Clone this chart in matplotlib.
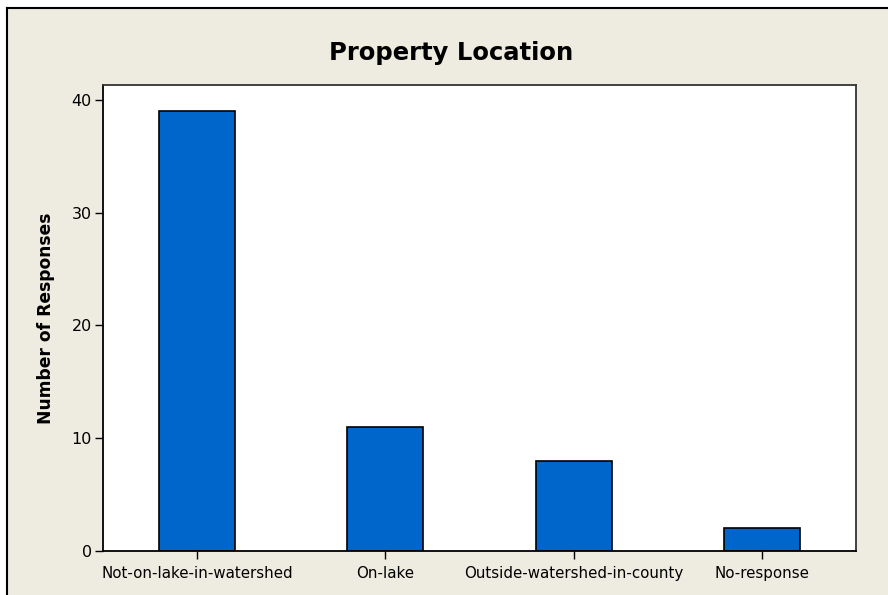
import matplotlib
matplotlib.use("Agg")
import matplotlib.pyplot as plt
from matplotlib.lines import Line2D

# -------- data --------
categories = ["Not-on-lake-in-watershed", "On-lake",
              "Outside-watershed-in-county", "No-response"]
responses = [39, 11, 8, 2]
y_ticks = [0, 10, 20, 30, 40]
# ----------------------

BG = "#EEEBE0"
BAR = "#0066CC"

plt.rcParams["font.family"] = ["DejaVu Sans"]

fig = plt.figure(figsize=(8.88, 5.95), dpi=100, facecolor=BG)
ax = fig.add_axes([103 / 888, 1 - 551 / 595, (856 - 103) / 888, (551 - 85) / 595])
ax.set_facecolor("white")

x = list(range(len(categories)))
ax.bar(x, responses, width=0.405, color=BAR, edgecolor="black", linewidth=1.2)

ax.set_xlim(-0.5, 3.5)
ax.set_ylim(0, 41.3)
ax.set_xticks(x)
ax.set_xticklabels(categories, fontsize=10.8)
ax.set_yticks(y_ticks)
ax.set_yticklabels([str(t) for t in y_ticks], fontsize=11.5)
ax.tick_params(axis="both", direction="out", length=6, width=1, color="black", pad=2)
ax.tick_params(axis="x", pad=5)

for side in ["left", "bottom", "top", "right"]:
    ax.spines[side].set_linewidth(1.3)
    ax.spines[side].set_color("black")
ax.spines["right"].set_color("#333333")
ax.spines["top"].set_color("#333333")

ax.set_ylabel("Number of Responses", fontsize=12.3, fontweight="bold", labelpad=12)

fig.text(451 / 888, 1 - 53 / 595, "Property Location", fontsize=17.5, fontweight="bold",
         ha="center", va="center")

# outer frame (top and left edges visible in the cropped screenshot)
fig.add_artist(Line2D([7 / 888, 1], [1 - 8 / 595, 1 - 8 / 595], color="black",
                      linewidth=1.5, transform=fig.transFigure))
fig.add_artist(Line2D([7 / 888, 7 / 888], [0, 1 - 8 / 595], color="black",
                      linewidth=1.5, transform=fig.transFigure))
# white strip above / left of the frame
fig.add_artist(plt.Rectangle((0, 1 - 8 / 595), 1, 8 / 595, facecolor="white",
                             edgecolor="none", transform=fig.transFigure, zorder=-1))
fig.add_artist(plt.Rectangle((0, 0), 7 / 888, 1, facecolor="white",
                             edgecolor="none", transform=fig.transFigure, zorder=-1))

fig.savefig("out.png", dpi=100, facecolor=BG)
